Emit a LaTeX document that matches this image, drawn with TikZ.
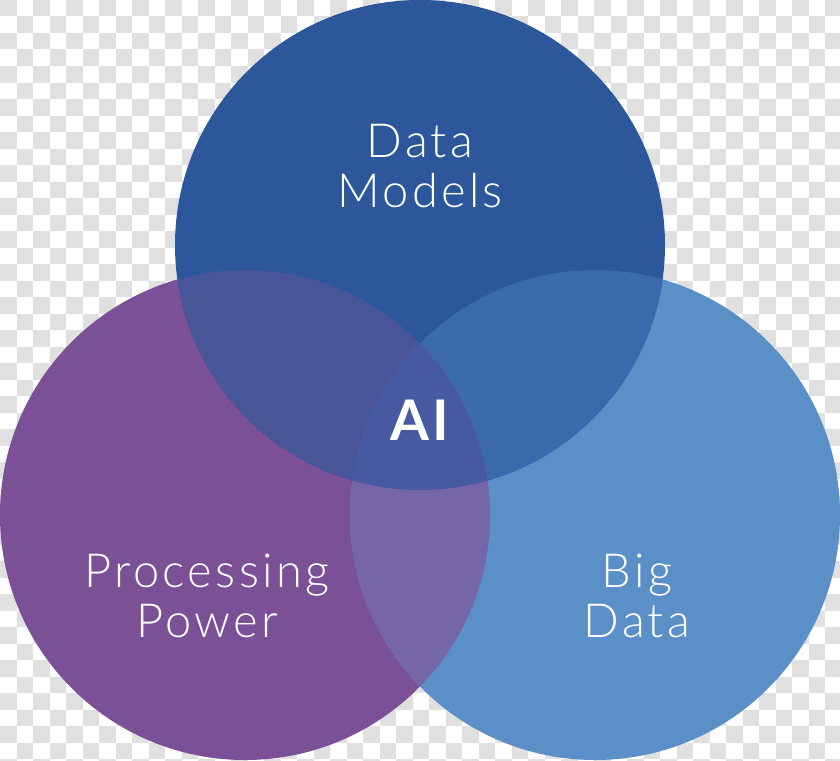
\documentclass[tikz,border=0pt]{standalone}
\usepackage{fontspec}
\setmainfont{Lato}[UprightFont={* Light},BoldFont={* Bold}]
\newfontfamily\labelfont{Lato}[UprightFont={* Light},LetterSpace=7]
\newfontfamily\aifont{Lato}[UprightFont={* Bold},LetterSpace=6]
\definecolor{checkgray}{HTML}{E0E0E0}
\definecolor{cTop}{HTML}{2C579B}
\definecolor{cLeft}{HTML}{7B5096}
\definecolor{cRight}{HTML}{5A8FC8}
\definecolor{cTL}{HTML}{495599}
\definecolor{cTR}{HTML}{3A69AC}
\definecolor{cLR}{HTML}{7566A8}
\definecolor{cC}{HTML}{4759A0}
\begin{document}
\begin{tikzpicture}[x=1pt,y=-1pt,
  lbl/.style={text=white,font=\labelfont\fontsize{47}{50}\selectfont,align=center,anchor=base,inner sep=0pt},
  ailbl/.style={text=white,font=\aifont\fontsize{56}{60}\selectfont,anchor=base,inner sep=0pt}]
\useasboundingbox (0,0) rectangle (840,760);
\fill[white] (0,0) rectangle (840,760);
\foreach \i in {0,...,50}{
  \foreach \j in {0,...,46}{
    \pgfmathtruncatemacro{\chk}{mod(\i+\j,2)}
    \ifnum\chk=0
      \fill[checkgray] (\i*16.5,\j*16.5) rectangle ++(16.5,16.5);
    \fi
  }
}
\coordinate (T) at (420,245);
\coordinate (L) at (245,515);
\coordinate (R) at (595,515);
\fill[cLeft] (L) circle[radius=245];
\fill[cRight] (R) circle[radius=245];
\fill[cTop] (T) circle[radius=245];
\begin{scope}
  \clip (T) circle[radius=245];
  \fill[cTL] (L) circle[radius=245];
  \fill[cTR] (R) circle[radius=245];
\end{scope}
\begin{scope}
  \clip (L) circle[radius=245];
  \fill[cLR] (R) circle[radius=245];
  \clip (R) circle[radius=245];
  \fill[cC] (T) circle[radius=245];
\end{scope}
\node[lbl] (dm) at (420,207) {Data\\Models};
\node[lbl] (pp) at (207,637) {Processing\\Power};
\node[lbl] (bd) at (637,637) {Big\\Data};
\node[ailbl] (ai) at (420,440) {AI};
\end{tikzpicture}
\end{document}
